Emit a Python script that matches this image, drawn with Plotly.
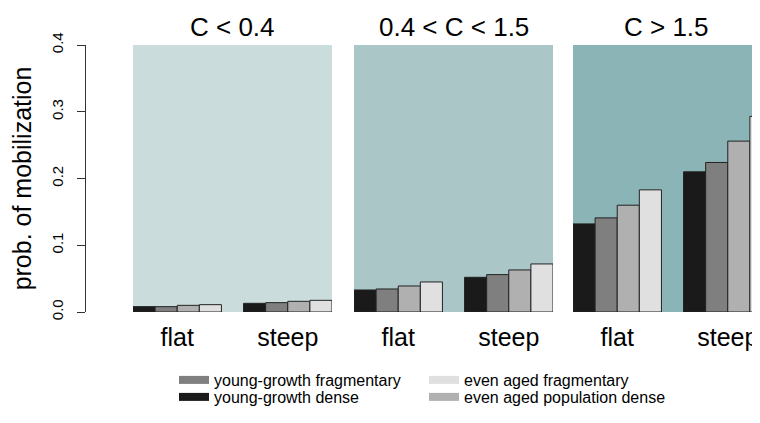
import plotly.graph_objects as go

# ---- data ----
panels = ["C < 0.4", "0.4 < C < 1.5", "C > 1.5"]
slopes = ["flat", "steep"]
series_names = ["young-growth dense", "young-growth fragmentary",
                "even aged population dense", "even aged fragmentary"]
yg_dense = [[0.008, 0.013], [0.033, 0.052], [0.132, 0.210]]
yg_frag = [[0.008, 0.014], [0.0345, 0.056], [0.141, 0.224]]
ea_pop_dense = [[0.010, 0.016], [0.039, 0.063], [0.160, 0.256]]
ea_frag = [[0.011, 0.0175], [0.045, 0.072], [0.183, 0.293]]
series_values = [yg_dense, yg_frag, ea_pop_dense, ea_frag]
y_ticks = [0.0, 0.1, 0.2, 0.3, 0.4]
y_ticklabels = ["0.0", "0.1", "0.2", "0.3", "0.4"]

# ---- styles ----
series_colors = ["#1a1a1a", "#7f7f7f", "#b0b0b0", "#e0e0e0"]
panel_bg = ["#cbdcdc", "#abc6c7", "#8bb4b6"]
FONT = "Liberation Sans, Arial, sans-serif"

OFF = 8  # page body margin offset
W, H = 760 - OFF, 423 - 2 * OFF
L, T = 85 - OFF, 45 - OFF
PLOT_BOTTOM = 312 - OFF
B = H - PLOT_BOTTOM
R = 0
PW = W - L - R
PH = H - T - B

def px_to_x(p):
    return (p - OFF - L) / PW

def py_to_y(p):
    return (PLOT_BOTTOM - (p - OFF)) / PH

domains = [
    [px_to_x(133), px_to_x(332)],
    [px_to_x(354), px_to_x(553)],
    [px_to_x(573), 1.0],
]
unit_px = (332 - 133) / 1.8
ranges = [[-0.4, 1.4], [-0.4, 1.4], [-0.4, -0.4 + (760 - 573) / unit_px]]

fig = go.Figure()

for p in range(len(panels)):
    xa = "x" if p == 0 else f"x{p+1}"
    for s, name in enumerate(series_names):
        fig.add_trace(go.Bar(
            x=slopes, y=series_values[s][p], name=name,
            xaxis=xa, yaxis="y",
            marker=dict(color=series_colors[s], line=dict(color="#222222", width=1)),
            offsetgroup=str(s), showlegend=False,
        ))

# legend entries (thick line swatches), four independently placed legends
legend_order = [
    ("young-growth fragmentary", 1, "legend", 174, 380),
    ("young-growth dense", 0, "legend2", 174, 397),
    ("even aged fragmentary", 3, "legend3", 424, 380),
    ("even aged population dense", 2, "legend4", 424, 397),
]
legend_layout = {}
for name, idx, lg, lx, ly in legend_order:
    fig.add_trace(go.Scatter(
        x=[None], y=[None], mode="lines", name=name,
        line=dict(color=series_colors[idx], width=8),
        xaxis="x", yaxis="y", legend=lg, showlegend=True,
    ))
    legend_layout[lg] = dict(
        x=px_to_x(lx), y=py_to_y(ly), xanchor="left", yanchor="middle",
        bgcolor="rgba(0,0,0,0)", borderwidth=0,
        font=dict(family=FONT, size=16, color="#000000"),
        itemwidth=30, orientation="v",
    )

layout = dict(
    width=W, height=H,
    margin=dict(l=L, r=R, t=T, b=B),
    paper_bgcolor="white", plot_bgcolor="rgba(0,0,0,0)",
    barmode="group", bargap=0.2, bargroupgap=0,
    font=dict(family=FONT, color="#000000"),
    yaxis=dict(
        anchor="free", position=0, range=[0, 0.4],
        tickvals=y_ticks, ticktext=y_ticklabels, tickangle=-90,
        ticks="outside", ticklen=8, tickcolor="#333333",
        showline=True, linecolor="#333333", linewidth=1,
        showgrid=False, zeroline=False,
        tickfont=dict(family=FONT, size=15),
        ticklabelstandoff=8,
        title=dict(text="prob. of mobilization", font=dict(family=FONT, size=25), standoff=12),
    ),
)
for p in range(len(panels)):
    key = "xaxis" if p == 0 else f"xaxis{p+1}"
    layout[key] = dict(
        domain=domains[p], range=ranges[p], anchor="y",
        type="category",
        showline=False, showgrid=False, zeroline=False, ticks="",
        tickfont=dict(family=FONT, size=25),
        ticklabelstandoff=8,
    )
layout.update(legend_layout)
fig.update_layout(**layout)

shapes = []
annotations = []
for p, title in enumerate(panels):
    xa = "x" if p == 0 else f"x{p+1}"
    shapes.append(dict(
        type="rect", xref=f"{xa} domain", yref="y domain",
        x0=0, x1=1, y0=0, y1=1, fillcolor=panel_bg[p],
        line=dict(width=0), layer="below",
    ))
    annotations.append(dict(
        text=title, xref=f"{xa} domain", yref="paper",
        x=0.5, y=py_to_y(27), xanchor="center", yanchor="middle",
        showarrow=False, font=dict(family=FONT, size=26, color="#000000"),
    ))
fig.update_layout(shapes=shapes, annotations=annotations)

fig.write_html("out.html")
